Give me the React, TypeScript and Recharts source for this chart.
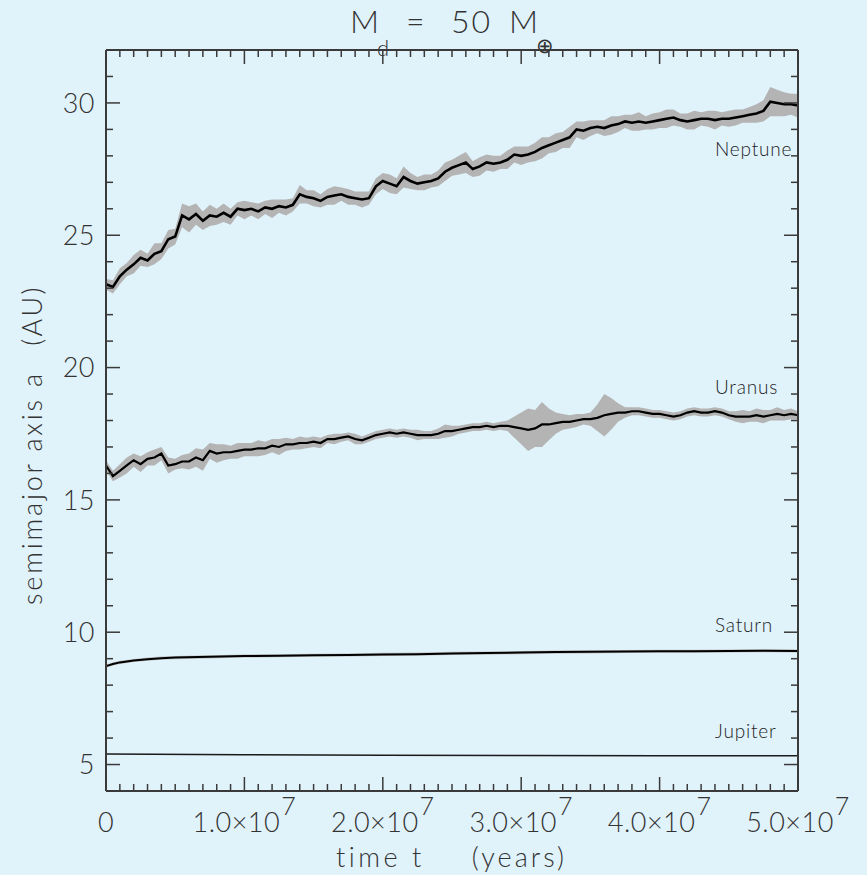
import { ComposedChart, Line, Area, XAxis, YAxis } from 'recharts';

// time in Myr (plotted against a 1e7 yr axis)
const TIME = [
  0, 0.5, 1, 1.5, 2, 2.5, 3, 3.5, 4, 4.5, 5,
  5.5, 6, 6.5, 7, 7.5, 8, 8.5, 9, 9.5, 10,
  10.5, 11, 11.5, 12, 12.5, 13, 13.5, 14, 14.5, 15,
  15.5, 16, 16.5, 17, 17.5, 18, 18.5, 19, 19.5, 20,
  20.5, 21, 21.5, 22, 22.5, 23, 23.5, 24, 24.5, 25,
  25.5, 26, 26.5, 27, 27.5, 28, 28.5, 29, 29.5, 30,
  30.5, 31, 31.5, 32, 32.5, 33, 33.5, 34, 34.5, 35,
  35.5, 36, 36.5, 37, 37.5, 38, 38.5, 39, 39.5, 40,
  40.5, 41, 41.5, 42, 42.5, 43, 43.5, 44, 44.5, 45,
  45.5, 46, 46.5, 47, 47.5, 48, 48.5, 49, 49.5, 50,
];

const NEPTUNE = [
  23.15, 23.05, 23.45, 23.7, 23.9, 24.15, 24.05, 24.3, 24.4, 24.85, 24.95,
  25.75, 25.6, 25.8, 25.55, 25.75, 25.7, 25.85, 25.7, 26.0, 25.95,
  26.0, 25.9, 26.05, 26.0, 26.1, 26.05, 26.15, 26.55, 26.45, 26.4,
  26.3, 26.45, 26.5, 26.55, 26.45, 26.4, 26.35, 26.4, 26.85, 27.05,
  26.95, 26.85, 27.2, 27.05, 26.95, 27.0, 27.05, 27.15, 27.4, 27.55,
  27.65, 27.75, 27.5, 27.6, 27.75, 27.7, 27.75, 27.85, 28.05, 28.0,
  28.05, 28.15, 28.3, 28.4, 28.5, 28.6, 28.7, 29.0, 28.95, 29.05,
  29.1, 29.05, 29.15, 29.2, 29.3, 29.25, 29.3, 29.25, 29.3, 29.35,
  29.4, 29.45, 29.35, 29.3, 29.35, 29.4, 29.4, 29.35, 29.4, 29.4,
  29.45, 29.5, 29.55, 29.6, 29.7, 30.05, 30.0, 29.95, 29.95, 29.9,
];
const NEPTUNE_SPREAD = [
  0.2, 0.25, 0.3, 0.25, 0.35, 0.3, 0.25, 0.4, 0.3, 0.35, 0.3,
  0.45, 0.5, 0.4, 0.35, 0.4, 0.3, 0.35, 0.3, 0.25, 0.35,
  0.25, 0.3, 0.25, 0.35, 0.25, 0.3, 0.25, 0.35, 0.25, 0.3,
  0.25, 0.3, 0.35, 0.25, 0.3, 0.25, 0.3, 0.25, 0.3, 0.3,
  0.35, 0.3, 0.4, 0.3, 0.25, 0.3, 0.25, 0.3, 0.35, 0.3,
  0.35, 0.4, 0.3, 0.35, 0.3, 0.3, 0.25, 0.35, 0.3, 0.35,
  0.3, 0.35, 0.4, 0.3, 0.35, 0.3, 0.4, 0.3, 0.35, 0.3,
  0.25, 0.3, 0.35, 0.3, 0.25, 0.3, 0.35, 0.25, 0.3, 0.3,
  0.35, 0.3, 0.25, 0.3, 0.35, 0.25, 0.3, 0.35, 0.25, 0.3,
  0.3, 0.25, 0.3, 0.35, 0.4, 0.55, 0.5, 0.45, 0.4, 0.45,
];

const URANUS = [
  16.3, 15.9, 16.1, 16.3, 16.5, 16.35, 16.55, 16.6, 16.75, 16.3, 16.35,
  16.45, 16.45, 16.6, 16.5, 16.85, 16.75, 16.8, 16.8, 16.85, 16.9,
  16.9, 16.95, 16.95, 17.05, 17.0, 17.1, 17.1, 17.15, 17.15, 17.2,
  17.15, 17.3, 17.3, 17.35, 17.4, 17.3, 17.25, 17.35, 17.45, 17.5,
  17.55, 17.5, 17.55, 17.5, 17.45, 17.45, 17.45, 17.5, 17.6, 17.6,
  17.65, 17.7, 17.75, 17.75, 17.8, 17.75, 17.8, 17.8, 17.75, 17.7,
  17.65, 17.7, 17.85, 17.85, 17.9, 17.95, 17.95, 18.0, 18.05, 18.05,
  18.1, 18.2, 18.25, 18.3, 18.3, 18.35, 18.35, 18.3, 18.25, 18.25,
  18.2, 18.15, 18.2, 18.3, 18.35, 18.3, 18.3, 18.35, 18.3, 18.2,
  18.15, 18.15, 18.15, 18.2, 18.15, 18.2, 18.25, 18.2, 18.25, 18.2,
];
const URANUS_SPREAD = [
  0.2, 0.2, 0.25, 0.3, 0.25, 0.3, 0.25, 0.3, 0.25, 0.3, 0.2,
  0.25, 0.3, 0.35, 0.4, 0.3, 0.35, 0.3, 0.25, 0.3, 0.25,
  0.25, 0.3, 0.25, 0.25, 0.3, 0.25, 0.2, 0.25, 0.2, 0.2,
  0.2, 0.15, 0.2, 0.15, 0.15, 0.2, 0.15, 0.15, 0.15, 0.15,
  0.15, 0.15, 0.15, 0.15, 0.2, 0.15, 0.15, 0.2, 0.25, 0.2,
  0.15, 0.15, 0.15, 0.15, 0.15, 0.15, 0.15, 0.2, 0.4, 0.6,
  0.8, 0.7, 0.85, 0.6, 0.4, 0.3, 0.25, 0.25, 0.2, 0.25,
  0.5, 0.8, 0.6, 0.35, 0.2, 0.15, 0.15, 0.15, 0.15, 0.15,
  0.15, 0.15, 0.15, 0.15, 0.15, 0.15, 0.15, 0.15, 0.15, 0.15,
  0.2, 0.25, 0.2, 0.25, 0.25, 0.2, 0.25, 0.2, 0.2, 0.15,
];

const SATURN_TIME = [0, 0.5, 1, 2, 3, 4, 5, 7.5, 10, 12.5, 15, 17.5, 20, 22.5, 25, 27.5, 30, 32.5, 35, 37.5, 40, 42.5, 45, 47.5, 50];
const SATURN = [8.72, 8.8, 8.86, 8.93, 8.98, 9.02, 9.04, 9.07, 9.1, 9.11, 9.13, 9.14, 9.16, 9.17, 9.2, 9.21, 9.23, 9.25, 9.26, 9.27, 9.28, 9.28, 9.29, 9.3, 9.29];

const JUPITER_TIME = [0, 10, 20, 30, 40, 50];
const JUPITER = [5.4, 5.37, 5.35, 5.34, 5.33, 5.33];

const X_MAJOR = [0, 10, 20, 30, 40, 50];
const X_MANTISSA = ['0', '1.0', '2.0', '3.0', '4.0', '5.0'];
const X_EXPONENT = '7';
const Y_MAJOR = [5, 10, 15, 20, 25, 30];
const X_TICKS = Array.from({ length: 51 }, (_, i) => i);
const Y_TICKS = Array.from({ length: 29 }, (_, i) => i + 4);

const PLANET_LABELS = [
  { name: 'Neptune', y: 156 },
  { name: 'Uranus', y: 394 },
  { name: 'Saturn', y: 632 },
  { name: 'Jupiter', y: 738 },
];

const W = 867;
const H = 875;
const PLOT = { left: 106, right: 798, top: 50, bottom: 791 };
const BG = '#e0f2fa';
const INK = '#333333';
const AXIS = '#3a3a3a';
const BAND = '#b4b4b4';
const FONT = "Lato, 'Open Sans', sans-serif";

const neptuneRows = TIME.map((t, i) => ({ t, a: NEPTUNE[i], band: [NEPTUNE[i] - NEPTUNE_SPREAD[i], NEPTUNE[i] + NEPTUNE_SPREAD[i]] }));
const uranusRows = TIME.map((t, i) => ({ t, a: URANUS[i], band: [URANUS[i] - URANUS_SPREAD[i], URANUS[i] + URANUS_SPREAD[i]] }));
const saturnRows = SATURN_TIME.map((t, i) => ({ t, a: SATURN[i], band: [SATURN[i] - 0.06, SATURN[i] + 0.06] }));
const jupiterRows = JUPITER_TIME.map((t, i) => ({ t, a: JUPITER[i] }));

// bottom tick: also mirrors the tick onto the top edge of the frame
function XTick({ x, payload }: any) {
  const v = payload.value;
  const i = X_MAJOR.indexOf(v);
  const len = i >= 0 ? 14 : 7;
  return (
    <g>
      <line x1={x} x2={x} y1={PLOT.bottom} y2={PLOT.bottom - len} stroke={AXIS} strokeWidth={1.5} />
      <line x1={x} x2={x} y1={PLOT.top} y2={PLOT.top + len} stroke={AXIS} strokeWidth={1.5} />
      {i >= 0 && (
        <text x={x} y={PLOT.bottom + 41} textAnchor="middle" fill={INK} fontSize={27} fontWeight={300} fontFamily={FONT} letterSpacing={0.5}>
          {X_MANTISSA[i]}
          {v !== 0 && <tspan>×10</tspan>}
          {v !== 0 && <tspan dx={1} dy={-17} fontSize={25}>{X_EXPONENT}</tspan>}
        </text>
      )}
    </g>
  );
}

// left tick: also mirrors the tick onto the right edge of the frame
function YTick({ y, payload }: any) {
  const v = payload.value;
  const major = Y_MAJOR.includes(v);
  const len = major ? 14 : 7;
  return (
    <g>
      <line x1={PLOT.left} x2={PLOT.left + len} y1={y} y2={y} stroke={AXIS} strokeWidth={1.5} />
      <line x1={PLOT.right} x2={PLOT.right - len} y1={y} y2={y} stroke={AXIS} strokeWidth={1.5} />
      {major && (
        <text x={95} y={y} dy="0.36em" textAnchor="end" fill={INK} fontSize={27} fontWeight={300} fontFamily={FONT} letterSpacing={0.5}>
          {v}
        </text>
      )}
    </g>
  );
}

export default function App() {
  const frame = { stroke: AXIS, strokeWidth: 2 };
  // axes need a non-zero size to be drawn, so each takes 1px out of its margin
  const margin = { top: PLOT.top - 1, right: W - PLOT.right - 1, bottom: H - PLOT.bottom - 1, left: PLOT.left - 1 };
  return (
    <div style={{ position: 'fixed', left: 0, top: 0, width: W, height: H, background: BG }}>
      <svg width={W} height={H} style={{ position: 'absolute', left: 0, top: 0 }} fontFamily={FONT} fill={INK}>
        <g fontWeight={300}>
          <text x={350} y={33} fontSize={32}>M</text>
          <text x={377} y={56} fontSize={22}>d</text>
          <text x={406} y={33} fontSize={32}>=</text>
          <text x={451} y={33} fontSize={32} letterSpacing={2}>50</text>
          <text x={509} y={33} fontSize={32}>M</text>
          <text x={536} y={53} fontSize={21}>⊕</text>
        </g>
        <g fontSize={27} fontWeight={300}>
          <text x={336} y={867} letterSpacing={3.5}>time t</text>
          <text x={567} y={867} textAnchor="end" letterSpacing={3}>(years)</text>
          <text transform="translate(42,605) rotate(-90)" letterSpacing={2.8}>semimajor axis a</text>
          <text transform="translate(42,285) rotate(-90)" textAnchor="end" letterSpacing={2.5}>(AU)</text>
        </g>
        <g fontSize={19} fontWeight={300} fill="#1e1e1e" letterSpacing={0.8}>
          {PLANET_LABELS.map((p) => (
            <text key={p.name} x={715} y={p.y}>{p.name}</text>
          ))}
        </g>
      </svg>
      <div style={{ position: 'absolute', left: 0, top: 0 }}>
        <ComposedChart width={W} height={H} margin={margin}>
          <XAxis xAxisId="b" dataKey="t" type="number" domain={[0, 50]} ticks={X_TICKS} interval={0} height={1} tickSize={0} tickLine={false} axisLine={frame} tick={(p: any) => <XTick {...p} />} />
          <XAxis xAxisId="t" orientation="top" dataKey="t" type="number" domain={[0, 50]} height={1} tickLine={false} axisLine={frame} tick={false} />
          <YAxis yAxisId="l" type="number" domain={[4, 32]} ticks={Y_TICKS} interval={0} width={1} tickSize={0} tickLine={false} axisLine={frame} tick={(p: any) => <YTick {...p} />} />
          <YAxis yAxisId="r" orientation="right" type="number" domain={[4, 32]} width={1} tickLine={false} axisLine={frame} tick={false} />

          <Area xAxisId="b" yAxisId="l" data={neptuneRows} dataKey="band" type="linear" fill={BAND} fillOpacity={1} stroke="none" isAnimationActive={false} />
          <Area xAxisId="b" yAxisId="l" data={uranusRows} dataKey="band" type="linear" fill={BAND} fillOpacity={1} stroke="none" isAnimationActive={false} />
          <Area xAxisId="b" yAxisId="l" data={saturnRows} dataKey="band" type="linear" fill={BAND} fillOpacity={0.8} stroke="none" isAnimationActive={false} />

          <Line xAxisId="b" yAxisId="l" data={neptuneRows} dataKey="a" type="linear" stroke="#000" strokeWidth={2.6} dot={false} isAnimationActive={false} />
          <Line xAxisId="b" yAxisId="l" data={uranusRows} dataKey="a" type="linear" stroke="#000" strokeWidth={2.2} dot={false} isAnimationActive={false} />
          <Line xAxisId="b" yAxisId="l" data={saturnRows} dataKey="a" type="linear" stroke="#000" strokeWidth={2} dot={false} isAnimationActive={false} />
          <Line xAxisId="b" yAxisId="l" data={jupiterRows} dataKey="a" type="linear" stroke="#1a1a1a" strokeWidth={1.6} dot={false} isAnimationActive={false} />
        </ComposedChart>
      </div>
    </div>
  );
}
